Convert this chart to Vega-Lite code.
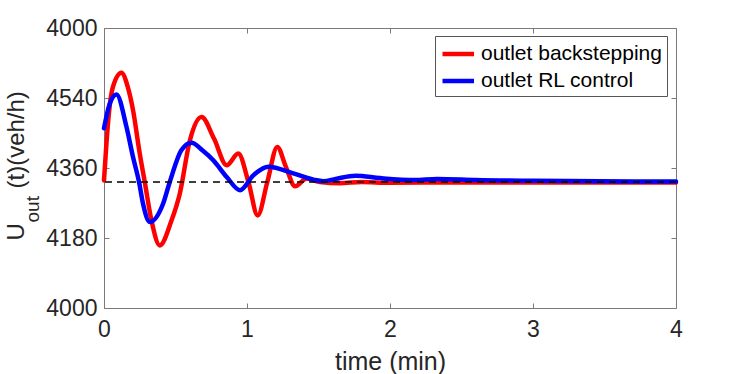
{
  "$schema": "https://vega.github.io/schema/vega-lite/v6.json",
  "width": 572,
  "height": 280,
  "autosize": "none",
  "padding": {"left": 104, "top": 28, "right": 71, "bottom": 66},
  "config": {
    "font": "Liberation Sans",
    "view": {"stroke": null},
    "axis": {
      "grid": false,
      "domainColor": "#7a7a7a",
      "tickColor": "#7a7a7a",
      "tickSize": -5,
      "labelColor": "#262626",
      "labelFontSize": 23,
      "labelFlush": false,
      "titleColor": "#262626",
      "titleFontWeight": "normal"
    }
  },
  "datasets": {
    "curves": [
      {"t": 0, "v": 4328, "series": "outlet backstepping"},
      {"t": 0.017, "v": 4423, "series": "outlet backstepping"},
      {"t": 0.04, "v": 4520, "series": "outlet backstepping"},
      {"t": 0.063, "v": 4569, "series": "outlet backstepping"},
      {"t": 0.122, "v": 4605, "series": "outlet backstepping"},
      {"t": 0.165, "v": 4570, "series": "outlet backstepping"},
      {"t": 0.203, "v": 4509, "series": "outlet backstepping"},
      {"t": 0.25, "v": 4397, "series": "outlet backstepping"},
      {"t": 0.285, "v": 4324, "series": "outlet backstepping"},
      {"t": 0.332, "v": 4225, "series": "outlet backstepping"},
      {"t": 0.39, "v": 4161, "series": "outlet backstepping"},
      {"t": 0.472, "v": 4225, "series": "outlet backstepping"},
      {"t": 0.53, "v": 4294, "series": "outlet backstepping"},
      {"t": 0.6, "v": 4430, "series": "outlet backstepping"},
      {"t": 0.682, "v": 4491, "series": "outlet backstepping"},
      {"t": 0.77, "v": 4435, "series": "outlet backstepping"},
      {"t": 0.858, "v": 4367, "series": "outlet backstepping"},
      {"t": 0.939, "v": 4397, "series": "outlet backstepping"},
      {"t": 1.01, "v": 4324, "series": "outlet backstepping"},
      {"t": 1.075, "v": 4238, "series": "outlet backstepping"},
      {"t": 1.142, "v": 4324, "series": "outlet backstepping"},
      {"t": 1.212, "v": 4414, "series": "outlet backstepping"},
      {"t": 1.27, "v": 4365, "series": "outlet backstepping"},
      {"t": 1.336, "v": 4313, "series": "outlet backstepping"},
      {"t": 1.418, "v": 4333, "series": "outlet backstepping"},
      {"t": 1.51, "v": 4324, "series": "outlet backstepping"},
      {"t": 1.65, "v": 4321, "series": "outlet backstepping"},
      {"t": 1.8, "v": 4324, "series": "outlet backstepping"},
      {"t": 2.0, "v": 4322, "series": "outlet backstepping"},
      {"t": 2.5, "v": 4323, "series": "outlet backstepping"},
      {"t": 3.0, "v": 4323, "series": "outlet backstepping"},
      {"t": 4.0, "v": 4323, "series": "outlet backstepping"},
      {"t": 0, "v": 4462, "series": "outlet RL control"},
      {"t": 0.04, "v": 4525, "series": "outlet RL control"},
      {"t": 0.087, "v": 4549, "series": "outlet RL control"},
      {"t": 0.157, "v": 4466, "series": "outlet RL control"},
      {"t": 0.203, "v": 4388, "series": "outlet RL control"},
      {"t": 0.245, "v": 4324, "series": "outlet RL control"},
      {"t": 0.273, "v": 4268, "series": "outlet RL control"},
      {"t": 0.32, "v": 4221, "series": "outlet RL control"},
      {"t": 0.413, "v": 4268, "series": "outlet RL control"},
      {"t": 0.46, "v": 4324, "series": "outlet RL control"},
      {"t": 0.542, "v": 4406, "series": "outlet RL control"},
      {"t": 0.612, "v": 4425, "series": "outlet RL control"},
      {"t": 0.69, "v": 4405, "series": "outlet RL control"},
      {"t": 0.764, "v": 4380, "series": "outlet RL control"},
      {"t": 0.858, "v": 4337, "series": "outlet RL control"},
      {"t": 0.951, "v": 4303, "series": "outlet RL control"},
      {"t": 1.044, "v": 4341, "series": "outlet RL control"},
      {"t": 1.149, "v": 4363, "series": "outlet RL control"},
      {"t": 1.324, "v": 4346, "series": "outlet RL control"},
      {"t": 1.465, "v": 4330, "series": "outlet RL control"},
      {"t": 1.535, "v": 4326, "series": "outlet RL control"},
      {"t": 1.62, "v": 4332, "series": "outlet RL control"},
      {"t": 1.76, "v": 4340, "series": "outlet RL control"},
      {"t": 1.93, "v": 4334, "series": "outlet RL control"},
      {"t": 2.17, "v": 4329, "series": "outlet RL control"},
      {"t": 2.33, "v": 4332, "series": "outlet RL control"},
      {"t": 2.6, "v": 4329, "series": "outlet RL control"},
      {"t": 3.0, "v": 4327, "series": "outlet RL control"},
      {"t": 4.0, "v": 4325, "series": "outlet RL control"}
    ],
    "ref": [{"v": 4324}]
  },
  "resolve": {"axis": {"x": "independent", "y": "independent"}},
  "layer": [
    {
      "data": {"name": "curves"},
      "mark": {"type": "line", "strokeWidth": 4.5, "interpolate": "monotone", "strokeCap": "round", "strokeJoin": "round"},
      "encoding": {
        "x": {
          "field": "t", "type": "quantitative",
          "scale": {"domain": [0, 4], "nice": false, "zero": false},
          "axis": {
            "orient": "bottom", "values": [0, 1, 2, 3, 4], "format": "d",
            "labelPadding": 15, "title": "time (min)", "titleFontSize": 25,
            "titleX": 286, "titleY": 61, "titleBaseline": "alphabetic", "titleAnchor": "middle"
          }
        },
        "y": {
          "field": "v", "type": "quantitative",
          "scale": {"domain": [4000, 4720], "nice": false, "zero": false},
          "axis": {
            "orient": "left", "offset": 0, "values": [4000, 4180, 4360, 4540, 4720],
            "labelExpr": "datum.value == 4720 ? '4000' : format(datum.value, 'd')",
            "labelPadding": 12,
            "title": "(t)(veh/h)", "titleFontSize": 24,
            "titleAngle": -90, "titleX": -81, "titleY": 160,
            "titleAlign": "left", "titleBaseline": "alphabetic"
          }
        },
        "color": {
          "field": "series", "type": "nominal",
          "scale": {"domain": ["outlet backstepping", "outlet RL control"], "range": ["#ff0000", "#0000ff"]},
          "legend": {
            "title": null, "orient": "none", "legendX": 331, "legendY": 8,
            "symbolType": "M-1,0H2", "symbolSize": 441, "symbolStrokeWidth": 4.5,
            "labelFontSize": 21, "labelColor": "#000000", "labelOffset": 15,
            "strokeColor": "#555555", "fillColor": "#ffffff", "padding": 5,
            "rowPadding": 4, "labelLimit": 300
          }
        }
      }
    },
    {
      "data": {"name": "curves"},
      "mark": {"type": "point", "opacity": 0},
      "encoding": {
        "x": {"field": "t", "type": "quantitative", "axis": {"orient": "top", "values": [0, 1, 2, 3, 4], "labels": false, "title": null}},
        "y": {"field": "v", "type": "quantitative", "axis": {"orient": "right", "values": [4000, 4180, 4360, 4540, 4720], "labels": false, "title": null}}
      }
    },
    {
      "data": {"name": "curves"},
      "mark": {"type": "point", "opacity": 0},
      "encoding": {
        "y": {"field": "v", "type": "quantitative", "axis": {
          "orient": "left", "offset": 0, "labels": false, "ticks": false, "domain": false,
          "title": "U", "titleFontSize": 24, "titleAngle": -90, "titleX": -81, "titleY": 212,
          "titleAlign": "left", "titleBaseline": "alphabetic"
        }}
      }
    },
    {
      "data": {"name": "curves"},
      "mark": {"type": "point", "opacity": 0},
      "encoding": {
        "y": {"field": "v", "type": "quantitative", "axis": {
          "orient": "left", "offset": 0, "labels": false, "ticks": false, "domain": false,
          "title": "out", "titleFontSize": 19, "titleAngle": -90, "titleX": -66, "titleY": 194,
          "titleAlign": "left", "titleBaseline": "alphabetic"
        }}
      }
    },
    {
      "data": {"name": "ref"},
      "mark": {"type": "rule", "color": "#000000", "strokeWidth": 1.3, "strokeDash": [7, 5]},
      "encoding": {
        "y": {"field": "v", "type": "quantitative", "axis": null}
      }
    }
  ]
}
